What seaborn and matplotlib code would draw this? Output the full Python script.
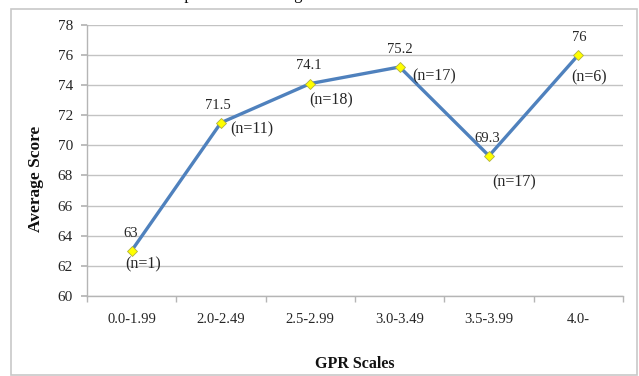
import matplotlib
matplotlib.use("Agg")
import matplotlib.pyplot as plt
from matplotlib.patches import Rectangle
import seaborn as sns
import pandas as pd

# GPR scale bands and the average score in each
categories = ["0.0-1.99", "2.0-2.49", "2.5-2.99", "3.0-3.49", "3.5-3.99", "4.0-"]
avg_scores = [63, 71.5, 74.1, 75.2, 69.3, 76]
counts = [1, 11, 18, 17, 17, 6]
y_ticks = [60, 62, 64, 66, 68, 70, 72, 74, 76, 78]

# label placement (offsets in points) for value and count labels
value_offsets = [(-1, 8), (-2, 8), (-1, 8), (0, 8), (-1, 8), (1, 8)]
count_offsets = [(8, -10), (22, -5), (15, -12), (25, -7), (18, -19), (8, -16)]

sns.set_theme(style="white")
plt.rcParams["font.family"] = ["Liberation Serif", "DejaVu Serif"]

df = pd.DataFrame({"scale": categories, "score": avg_scores})

fig = plt.figure(figsize=(6.39, 3.76), dpi=100)
ax = fig.add_axes([0.136, 0.213, 0.839, 0.721])

sns.lineplot(data=df, x="scale", y="score", sort=False, ax=ax,
             color="#4f81bd", linewidth=2.4, marker="D", markersize=5,
             markerfacecolor="#ffff00", markeredgecolor="#b0b040",
             markeredgewidth=0.6, zorder=3)

ax.set_xlim(-0.5, len(categories) - 0.5)
ax.set_ylim(60, 78)
ax.set_yticks(y_ticks)
ax.set_xticks(range(len(categories)))
ax.set_xticklabels(categories)
ax.set_xticks([i - 0.5 for i in range(len(categories) + 1)], minor=True)

ax.grid(axis="y", color="#c3c3c3", linewidth=1.0)
ax.grid(axis="x", visible=False)
ax.set_axisbelow(True)
for side in ["top", "right"]:
    ax.spines[side].set_visible(False)
for side in ["left", "bottom"]:
    ax.spines[side].set_color("#b5b5b5")
    ax.spines[side].set_linewidth(1.0)

ax.tick_params(axis="y", which="major", left=True, length=4, color="#b5b5b5",
               labelsize=11, pad=6, labelcolor="#262626")
ax.tick_params(axis="x", which="major", bottom=False, labelsize=10.5, pad=6,
               labelcolor="#262626")
ax.tick_params(axis="x", which="minor", bottom=True, length=4, color="#b5b5b5")

ax.set_xlabel("GPR Scales", fontsize=11.5, fontweight="bold", labelpad=22,
              color="#111111")
ax.set_ylabel("Average Score", fontsize=12.5, fontweight="bold",
              color="#111111")
ax.yaxis.set_label_coords(-0.08, 0.43)

for i, (v, n) in enumerate(zip(avg_scores, counts)):
    ax.annotate(f"{v:g}", (i, v), xytext=value_offsets[i],
                textcoords="offset points", ha="center", va="bottom",
                fontsize=10.5, color="#262626")
    ax.annotate(f"(n={n})", (i, v), xytext=count_offsets[i],
                textcoords="offset points", ha="center", va="center",
                fontsize=11.5, color="#262626")

# chart frame and the cut-off heading above it
fig.patches.append(Rectangle((11 / 639, 1.5 / 376), 626 / 639, 365.5 / 376,
                             transform=fig.transFigure, fill=False,
                             edgecolor="#c8c8c8", linewidth=1.2))
fig.text(152 / 639, 1 + 1 / 376, "Comparison of Average Scores", ha="left",
         va="baseline", fontsize=12, color="#111111")

fig.savefig("out.png", dpi=100)
